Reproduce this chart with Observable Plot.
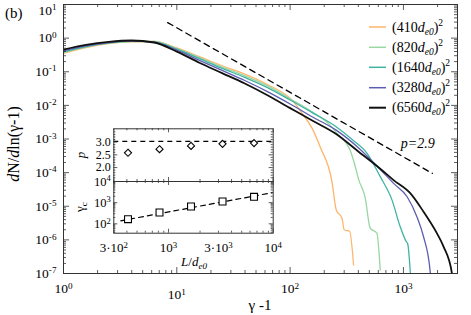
<!DOCTYPE html>
<html><head><meta charset="utf-8">
<script src="https://cdn.jsdelivr.net/npm/d3@7"></script>
<script src="https://cdn.jsdelivr.net/npm/@observablehq/plot@0.6"></script>
<style>
body{margin:0;background:#fff;}
#wrap{position:relative;width:471px;height:315px;}
#wrap svg{position:absolute;left:0;top:0;}
#wrap svg, #wrap svg text{font-family:"Liberation Serif","DejaVu Serif",serif !important;}
</style></head><body><div id="wrap"></div>
<script>
// ---------- data ----------
const sizes = ["410", "820", "1640", "3280", "6560"];
const colors = ["#fdb66b", "#98d6a2", "#3fb3a3", "#5c5db0", "#111111"];
const widths = [1.3, 1.3, 1.3, 1.3, 1.8];

const x410 = [1, 1.58, 2.51, 3.98, 6.31, 10, 15.8, 25.1, 39.8, 63.1, 107, 127, 156, 185, 234, 255, 287, 300, 335, 363];
const y410 = [0.355, 0.525, 0.692, 0.776, 0.794, 0.513, 0.282, 0.151, 0.0851, 0.0417, 0.0129, 5.9e-3, 2.1e-3, 5.6e-4, 5.4e-5, 7.9e-6, 4.4e-6, 2.0e-6, 1.8e-6, 1.8e-7];
const x820 = [1, 1.58, 2.51, 3.98, 6.31, 10, 15.8, 25.1, 39.8, 63.1, 100, 158, 224, 259, 316, 340, 376, 402, 460, 509, 583, 624];
const y820 = [0.372, 0.550, 0.708, 0.794, 0.794, 0.490, 0.263, 0.138, 0.0759, 0.0380, 0.0158, 6.3e-3, 2.63e-3, 1.48e-3, 7.1e-4, 4.5e-4, 1.5e-4, 6.3e-5, 1.78e-5, 2.24e-6, 1.58e-6, 1.26e-7];
const x1640 = [1, 1.58, 2.51, 3.98, 6.31, 10, 15.8, 25.1, 39.8, 63.1, 100, 158, 251, 355, 476, 624, 792, 937, 1059, 1087, 1148, 1165];
const y1640 = [0.389, 0.562, 0.724, 0.813, 0.776, 0.468, 0.245, 0.126, 0.0676, 0.0339, 0.0145, 6.0e-3, 2.4e-3, 9.5e-4, 3.8e-4, 7.6e-5, 1.55e-5, 2.45e-6, 8.9e-7, 7.9e-7, 1.15e-7, 5e-8];
const x3280 = [1, 1.58, 2.51, 3.98, 6.31, 10, 15.8, 25.1, 39.8, 63.1, 100, 158, 251, 398, 631, 818, 1074, 1315, 1503, 1722, 1750];
const y3280 = [0.417, 0.589, 0.741, 0.813, 0.759, 0.437, 0.219, 0.110, 0.055, 0.0257, 0.011, 4.5e-3, 1.9e-3, 5.6e-4, 1.2e-4, 4.8e-5, 1.95e-5, 4.9e-6, 1.26e-6, 1.15e-7, 5e-8];
const x6560 = [1, 1.58, 2.51, 3.98, 6.31, 10, 15.8, 25.1, 39.8, 63.1, 100, 158, 251, 402, 631, 818, 1148, 1503, 1972, 2259, 2680, 2754];
const y6560 = [0.457, 0.631, 0.776, 0.851, 0.741, 0.398, 0.186, 0.0912, 0.0447, 0.0200, 8.3e-3, 3.47e-3, 1.45e-3, 4.2e-4, 1.26e-4, 6.0e-5, 2.45e-5, 6.9e-6, 1.58e-6, 6.3e-7, 1.0e-7, 5.0e-8];

const fitX = [8.3, 1800];
const fitY = [2.9, 9.5e-5];
const fitLabel = "p=2.9";
const fitLabelPos = [1350, 7.6e-4];

const xMajor = [1, 10, 100, 1000];
const yMajor = [1e-7, 1e-6, 1e-5, 1e-4, 1e-3, 1e-2, 1e-1, 1, 10];

// inset
const Ls = [410, 820, 1640, 3280, 6560];
const pVals = [2.58, 2.72, 2.85, 2.93, 2.96];
const pRef = 3.03;
const gammaC = [165, 342, 658, 1133, 1890];
const gFitL = [350, 10000];
const gFitG = [139, 3020];
const insetXTicks = [300, 1000, 3000, 10000];
const insetXLabels = ["3·10^2", "10^3", "3·10^3", "10^4"];
const pTicks = [2.0, 2.5, 3.0];
const gTicks = [100, 1000, 10000];

// ---------- helpers ----------
const W = 471, H = 315;
const FONT = "'Liberation Serif', 'DejaVu Serif', serif";
const AX = "#333";

function logMinors(lo, hi) {
  const out = [];
  for (let e = lo; e <= hi; e++) for (let m = 2; m <= 9; m++) out.push(m * Math.pow(10, e));
  return out;
}
function edgeTicks(xVals, yVals, len, pw, ph) {
  return [
    Plot.ruleX(xVals, {x: d => d, insetTop: ph - len, stroke: AX, strokeWidth: 0.8}),
    Plot.ruleX(xVals, {x: d => d, insetBottom: ph - len, stroke: AX, strokeWidth: 0.8}),
    Plot.ruleY(yVals, {y: d => d, insetRight: pw - len, stroke: AX, strokeWidth: 0.8}),
    Plot.ruleY(yVals, {y: d => d, insetLeft: pw - len, stroke: AX, strokeWidth: 0.8})
  ];
}
const pow10 = d => "10^" + Math.round(Math.log10(d));
function supify(svg, shiftTop) {
  d3.select(svg).selectAll("text").each(function () {
    const t = this.textContent;
    const m = t.match(/^(.*?)10\^(-?\d+)$/);
    if (!m) return;
    const s = d3.select(this);
    s.text(null);
    s.append("tspan").text(m[1] + "10");
    s.append("tspan").attr("dy", "-0.5em").attr("font-size", "0.68em").text(m[2]);
    if (shiftTop && m[2] === "1" && m[1] === "") s.attr("transform", (s.attr("transform") || "") + " translate(0,6)");
  });
}

const wrap = document.getElementById("wrap");

// ---------- main plot ----------
const series = [[x410, y410], [x820, y820], [x1640, y1640], [x3280, y3280], [x6560, y6560]];
const M = {top: 4, right: 14, bottom: 42, left: 63};
const pw = W - M.left - M.right, ph = H - M.top - M.bottom;

const main = Plot.plot({
  width: W, height: H,
  marginTop: M.top, marginRight: M.right, marginBottom: M.bottom, marginLeft: M.left,
  style: {fontFamily: FONT, fontSize: "13.5px", background: "transparent", color: "#000"},
  x: {type: "log", domain: [1, 3000], label: null},
  y: {type: "log", domain: [1e-7, 10], label: null},
  marks: [
    ...series.map(([xs, ys], i) => Plot.line(xs.map((x, j) => ({x, y: ys[j]})), {
      x: "x", y: "y", stroke: colors[i], strokeWidth: widths[i], curve: "monotone-x", clip: true
    })),
    Plot.line(fitX.map((x, j) => ({x, y: fitY[j]})), {x: "x", y: "y", stroke: "#000", strokeWidth: 1.3, strokeDasharray: "6,4.5"}),
    ...edgeTicks(xMajor, yMajor, 6, pw, ph),
    ...edgeTicks(logMinors(0, 3).filter(d => d < 3000), logMinors(-7, 0), 3, pw, ph),
    Plot.frame({stroke: AX, strokeWidth: 1}),
    Plot.axisX({ticks: xMajor, tickFormat: pow10, tickSize: 0, tickPadding: 10, label: null}),
    Plot.axisY({ticks: yMajor, tickFormat: pow10, tickSize: 0, tickPadding: 7, label: null})
  ]
});
supify(main, true);
wrap.appendChild(main);
{
  const svg = d3.select(main);
  const sx = main.scale("x"), sy = main.scale("y");
  svg.append("text").attr("x", 5).attr("y", 18).attr("font-size", 15).attr("text-anchor", "start").text("(b)");
  const xl = svg.append("text").attr("x", 260).attr("y", 310).attr("font-size", 15).attr("text-anchor", "middle");
  xl.append("tspan").text("γ");
  xl.append("tspan").text(" -1");
  const yl = svg.append("text").attr("transform", "translate(19,144) rotate(-90)").attr("font-size", 16).attr("text-anchor", "middle");
  yl.append("tspan").attr("font-style", "italic").text("d");
  yl.append("tspan").text("N/");
  yl.append("tspan").attr("font-style", "italic").text("d");
  yl.append("tspan").text("ln(γ-1)");
  // fit label
  const fl = svg.append("text").attr("x", sx.apply(fitLabelPos[0])).attr("y", sy.apply(fitLabelPos[1]) + 5).attr("font-size", 14).attr("text-anchor", "middle");
  fl.append("tspan").attr("font-style", "italic").text(fitLabel.slice(0, 1));
  fl.append("tspan").attr("font-style", "italic").text(fitLabel.slice(1));
  // legend
  const rows = [27, 47.3, 67.3, 87.7, 107.7];
  sizes.forEach((s, i) => {
    svg.append("line").attr("x1", 369).attr("x2", 386).attr("y1", rows[i]).attr("y2", rows[i])
      .attr("stroke", colors[i]).attr("stroke-width", widths[i] + 0.2);
    const t = svg.append("text").attr("x", 392).attr("y", rows[i] + 4.5).attr("font-size", 14).attr("text-anchor", "start");
    t.append("tspan").text("(" + s);
    t.append("tspan").attr("font-style", "italic").text("d");
    t.append("tspan").attr("font-style", "italic").attr("font-size", "0.68em").attr("dy", 3).text("e0");
    t.append("tspan").attr("dy", -3).text(")");
    t.append("tspan").attr("font-size", "0.68em").attr("dy", -6).text("2");
  });
}

// ---------- inset: p panel ----------
const IL = 113.3, IR = W - 272.7;
const iw = W - IL - IR;
const pTop = 128.3, pBot = H - 181;
const pH = H - pTop - pBot;
const pData = Ls.map((L, i) => ({L, p: pVals[i]}));
const pPanel = Plot.plot({
  width: W, height: H,
  marginTop: pTop, marginBottom: pBot, marginLeft: IL, marginRight: IR,
  style: {fontFamily: FONT, fontSize: "12px", background: "transparent", color: "#000"},
  x: {type: "log", domain: [300, 10000], label: null, axis: null},
  y: {type: "linear", domain: [1.454, 3.52], label: null},
  marks: [
    Plot.frame({fill: "white", stroke: null}),
    Plot.ruleY([pRef], {stroke: "#000", strokeWidth: 1.2, strokeDasharray: "5,4"}),
    Plot.dot(pData, {x: "L", y: "p", symbol: "diamond2", r: 3.2, stroke: "#000", fill: "white", strokeWidth: 1.1}),
    ...edgeTicks([1000, 10000], pTicks, 4, iw, pH),
    ...edgeTicks(logMinors(2, 3).filter(d => d >= 300), d3.range(1.5, 3.55, 0.1).filter(v => Math.abs(v * 2 - Math.round(v * 2)) > 1e-6), 2, iw, pH),
    Plot.frame({stroke: AX, strokeWidth: 1}),
    Plot.axisY({ticks: pTicks, tickFormat: d => d.toFixed(1), tickSize: 0, tickPadding: 3, label: null})
  ]
});
wrap.appendChild(pPanel);
d3.select(pPanel).append("text").attr("transform", "translate(85,155) rotate(-90)")
  .attr("font-size", 13).attr("font-style", "italic").attr("text-anchor", "middle").text("p");

// ---------- inset: gamma_c panel ----------
const gTop = 181, gBot = H - 232.7;
const gH = H - gTop - gBot;
const gData = Ls.map((L, i) => ({L, g: gammaC[i]}));
const gPanel = Plot.plot({
  width: W, height: H,
  marginTop: gTop, marginBottom: gBot, marginLeft: IL, marginRight: IR,
  style: {fontFamily: FONT, fontSize: "12.5px", background: "transparent", color: "#000"},
  x: {type: "log", domain: [300, 10000], label: null},
  y: {type: "log", domain: [36, 10000], label: null},
  marks: [
    Plot.frame({fill: "white", stroke: null}),
    Plot.line(gFitL.map((L, j) => ({L, g: gFitG[j]})), {x: "L", y: "g", stroke: "#000", strokeWidth: 1.2, strokeDasharray: "5,4", clip: true}),
    Plot.dot(gData, {x: "L", y: "g", symbol: "square2", r: 4.4, stroke: "#000", fill: "white", strokeWidth: 1.1}),
    ...edgeTicks([1000, 10000], gTicks, 4, iw, gH),
    ...edgeTicks(logMinors(2, 3).filter(d => d >= 300), logMinors(1, 3).filter(d => d >= 36), 2, iw, gH),
    Plot.frame({stroke: AX, strokeWidth: 1}),
    Plot.axisY({ticks: gTicks, tickFormat: pow10, tickSize: 0, tickPadding: 3, label: null}),
    Plot.axisX({ticks: insetXTicks, tickFormat: d => insetXLabels[insetXTicks.indexOf(d)], tickSize: 0, tickPadding: 10, fontSize: 13, label: null})
  ]
});
supify(gPanel, false);
wrap.appendChild(gPanel);
{
  const svg = d3.select(gPanel);
  const gl = svg.append("text").attr("transform", "translate(84,207) rotate(-90)").attr("font-size", 13).attr("text-anchor", "middle");
  gl.append("tspan").text("γ");
  gl.append("tspan").attr("font-size", "0.7em").attr("dy", 3).text("c");
  const ll = svg.append("text").attr("x", 194).attr("y", 266).attr("font-size", 13).attr("text-anchor", "middle");
  ll.append("tspan").attr("font-style", "italic").text("L");
  ll.append("tspan").text("/");
  ll.append("tspan").attr("font-style", "italic").text("d");
  ll.append("tspan").attr("font-style", "italic").attr("font-size", "0.7em").attr("dy", 3).text("e0");
}
</script></body></html>
